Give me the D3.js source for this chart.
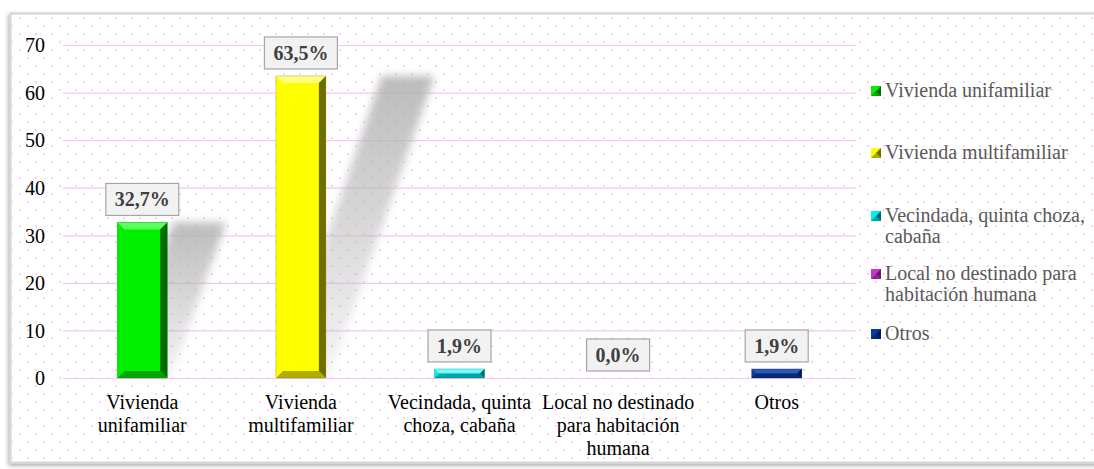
<!DOCTYPE html>
<html>
<head>
<meta charset="utf-8">
<script src="https://cdn.jsdelivr.net/npm/d3@7"></script>
<style>
  html, body { margin: 0; padding: 0; background: #ffffff; }
  svg { display: block; }
</style>
</head>
<body>
<svg id="chart" width="1094" height="469"></svg>
<script>
// data
var categories = ["Vivienda unifamiliar", "Vivienda multifamiliar", "Vecindada, quinta choza, cabaña",
                  "Local no destinado para habitación humana", "Otros"];
var values = [32.7, 63.5, 1.9, 0.0, 1.9];
var valueLabels = ["32,7%", "63,5%", "1,9%", "0,0%", "1,9%"];
var yTicks = [0, 10, 20, 30, 40, 50, 60, 70];

var colors = ["#00f000", "#ffff00", "#00f0f0", "#cc33cc", "#083c9c"];
var darkColors = ["#006b00", "#6e6e00", "#006a6a", "#6a1a6a", "#021a50"];
var lightColors = ["#5cff5c", "#ffff80", "#70ffff", "#e070e0", "#2858b8"];

var width = 1094, height = 469,
    margin = {top: 45, right: 238, bottom: 91, left: 63};
var serif = "'Liberation Serif', 'Times New Roman', serif";

var svg = d3.select("#chart");
var defs = svg.append("defs");

// dotted pink background
var pat = defs.append("pattern").attr("id", "dots")
    .attr("patternUnits", "userSpaceOnUse")
    .attr("width", 16).attr("height", 16);
pat.append("rect").attr("x", 3).attr("y", 1).attr("width", 2).attr("height", 2).attr("fill", "#f6d2f6");
pat.append("rect").attr("x", 11).attr("y", 9).attr("width", 2).attr("height", 2).attr("fill", "#f6d2f6");

var blur = defs.append("filter").attr("id", "blur").attr("x", "-50%").attr("y", "-20%")
    .attr("width", "200%").attr("height", "140%");
blur.append("feGaussianBlur").attr("stdDeviation", 4.5);

var frameShadow = defs.append("filter").attr("id", "frameShadow");
frameShadow.append("feDropShadow").attr("dx", -1).attr("dy", 2).attr("stdDeviation", 2)
    .attr("flood-color", "#000").attr("flood-opacity", 0.35);

var shadowGrad = defs.append("linearGradient").attr("id", "shadowGrad")
    .attr("x1", 0).attr("y1", 0).attr("x2", 0).attr("y2", 1);
shadowGrad.append("stop").attr("offset", "0%").attr("stop-color", "#b0b0b0").attr("stop-opacity", 0.85);
shadowGrad.append("stop").attr("offset", "100%").attr("stop-color", "#b0b0b0").attr("stop-opacity", 0.12);

// frame
svg.append("rect").attr("x", 10.5).attr("y", 13.5).attr("width", 1090).attr("height", 449)
    .attr("fill", "#fff").attr("stroke", "#d4d4d4").attr("stroke-width", 2)
    .attr("filter", "url(#frameShadow)");
svg.append("rect").attr("x", 12).attr("y", 15).attr("width", 1090).attr("height", 446)
    .attr("fill", "url(#dots)");

var x = d3.scaleBand()
    .domain(categories)
    .range([margin.left, width - margin.right])
    .paddingInner(0.685).paddingOuter(0.3425);

var y = d3.scaleLinear()
    .domain([0, 70])
    .range([height - margin.bottom, margin.top]);

// grid lines
svg.append("g")
    .attr("transform", "translate(" + margin.left + ",0)")
    .call(d3.axisLeft(y).tickValues(yTicks).tickSize(-(width - margin.right - margin.left)).tickFormat(""))
    .call(g => g.select(".domain").remove())
    .call(g => g.selectAll("line").attr("stroke", "#f6c8f6").attr("stroke-width", 1.2));

// y tick labels
svg.append("g")
    .attr("transform", "translate(45,0)")
    .call(d3.axisLeft(y).tickValues(yTicks).tickSize(0).tickPadding(0))
    .call(g => g.select(".domain").remove())
    .call(g => g.selectAll("text")
        .attr("font-family", serif).attr("dy", "0.34em")
        .attr("font-size", 20).attr("fill", "#000"));

// perspective shadows
var skew = 0.34;
svg.append("g").selectAll("path")
    .data(values.map((v, i) => ({v: v, i: i})).filter(d => d.v > 5)).enter()
    .append("path")
    .attr("fill", "url(#shadowGrad)")
    .attr("filter", "url(#blur)")
    .attr("d", function(d) {
        var x0 = x(categories[d.i]) + 3, w = x.bandwidth();
        var yb = y(0), yt = y(d.v);
        var off = (yb - yt) * skew;
        return "M" + x0 + "," + yb + "L" + (x0 + w) + "," + yb +
               "L" + (x0 + w + off + 3) + "," + yt + "L" + (x0 + off) + "," + yt + "Z";
    });

// bevelled bars
var bars = svg.append("g").selectAll("g")
    .data(values).enter()
    .append("g");

bars.each(function(d, i) {
    var g = d3.select(this);
    var x0 = x(categories[i]), w = x.bandwidth();
    var yt = y(d), yb = y(0), h = yb - yt;
    if (h < 0.5) return;
    var b = Math.min(7, h / 2);
    g.append("rect").attr("x", x0).attr("y", yt).attr("width", w).attr("height", h).attr("fill", colors[i]);
    // top bevel
    g.append("path").attr("fill", lightColors[i])
        .attr("d", "M" + x0 + "," + yt + "L" + (x0 + w) + "," + yt + "L" + (x0 + w - b) + "," + (yt + b) +
                   "L" + (x0 + b) + "," + (yt + b) + "Z");
    // right bevel
    g.append("path").attr("fill", darkColors[i])
        .attr("d", "M" + (x0 + w) + "," + yt + "L" + (x0 + w) + "," + yb + "L" + (x0 + w - b) + "," + (yb - b) +
                   "L" + (x0 + w - b) + "," + (yt + b) + "Z");
    // bottom bevel
    g.append("path").attr("fill", darkColors[i]).attr("opacity", 0.55)
        .attr("d", "M" + x0 + "," + yb + "L" + (x0 + w) + "," + yb + "L" + (x0 + w - b) + "," + (yb - b) +
                   "L" + (x0 + b) + "," + (yb - b) + "Z");
    // left bevel
    g.append("path").attr("fill", colors[i]).attr("opacity", 0.6)
        .attr("d", "M" + x0 + "," + yt + "L" + (x0 + b) + "," + (yt + b) + "L" + (x0 + b) + "," + (yb - b) +
                   "L" + x0 + "," + yb + "Z");
    g.append("rect").attr("x", x0).attr("y", yt).attr("width", w).attr("height", h)
        .attr("fill", "none").attr("stroke", darkColors[i]).attr("stroke-opacity", 0.35).attr("stroke-width", 0.8);
});

// value label boxes
var labels = svg.append("g").selectAll("g")
    .data(values).enter()
    .append("g");

labels.each(function(d, i) {
    var g = d3.select(this);
    var cx = x(categories[i]) + x.bandwidth() / 2;
    var bottom = y(d) - 7;
    var rect = g.append("rect");
    var t = g.append("text")
        .attr("x", cx).attr("y", bottom - 9)
        .attr("text-anchor", "middle")
        .attr("font-family", serif)
        .attr("font-weight", "bold").attr("font-size", 20).attr("fill", "#404040")
        .text(valueLabels[i]);
    var tw = t.node().getComputedTextLength();
    rect.attr("x", cx - tw / 2 - 9).attr("y", bottom - 32).attr("width", tw + 18).attr("height", 32)
        .attr("fill", "#f2f2f2").attr("stroke", "#a6a6a6").attr("stroke-width", 1.2);
});

// wrap helper
function wrapText(textSel, str, maxW, lineH) {
    var words = str.split(" "), line = [], lines = [];
    var tspan = textSel.append("tspan");
    words.forEach(function(wd) {
        line.push(wd);
        tspan.text(line.join(" "));
        if (tspan.node().getComputedTextLength() > maxW && line.length > 1) {
            line.pop();
            lines.push(line.join(" "));
            line = [wd];
        }
    });
    lines.push(line.join(" "));
    tspan.remove();
    lines.forEach(function(l, k) {
        textSel.append("tspan").attr("x", textSel.attr("x")).attr("dy", k === 0 ? 0 : lineH).text(l);
    });
}

// category labels
svg.append("g").selectAll("text")
    .data(categories).enter()
    .append("text")
    .attr("x", d => x(d) + x.bandwidth() / 2)
    .attr("y", 409)
    .attr("text-anchor", "middle")
    .attr("font-family", serif)
    .attr("font-size", 20).attr("fill", "#000")
    .each(function(d) { wrapText(d3.select(this), d, 156, 23); });

// legend
var legendY = [97, 159, 222, 280, 340];
var legend = svg.append("g").selectAll("g")
    .data(categories).enter()
    .append("g");

legend.each(function(d, i) {
    var g = d3.select(this);
    var ly = legendY[i];
    g.append("rect").attr("x", 871).attr("y", ly - 11).attr("width", 10).attr("height", 10).attr("fill", colors[i]);
    g.append("path").attr("fill", darkColors[i])
        .attr("d", "M881," + (ly - 11) + "L881," + (ly - 1) + "L876," + (ly - 6) + "Z");
    g.append("path").attr("fill", darkColors[i]).attr("opacity", 0.6)
        .attr("d", "M871," + (ly - 1) + "L881," + (ly - 1) + "L876," + (ly - 6) + "Z");
    var t = g.append("text")
        .attr("x", 885).attr("y", ly)
        .attr("font-family", serif)
        .attr("font-size", 20).attr("fill", "#595959");
    wrapText(t, d, 206, 21);
});
</script>
</body>
</html>
